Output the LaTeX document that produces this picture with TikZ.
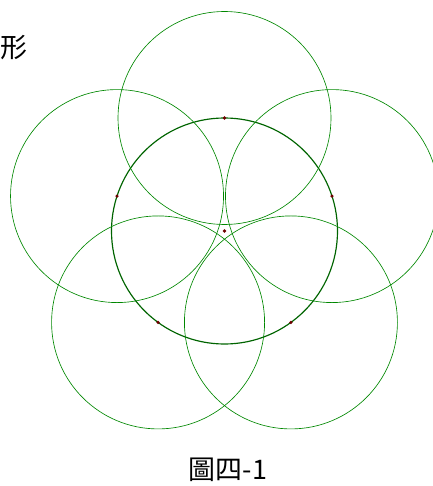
\documentclass[tikz,border=0pt]{standalone}
\usepackage{fontspec}
\newfontfamily\cjk{Noto Sans CJK TC}
\usetikzlibrary{positioning}

\definecolor{ringgreen}{RGB}{0,135,0}
\definecolor{darkgreen}{RGB}{0,100,0}
\definecolor{dotred}{RGB}{110,0,0}

\begin{document}
\begin{tikzpicture}[
  x=0.03cm, y=-0.03cm,
  ring/.style={draw=ringgreen, line width=0.55pt},
  mainring/.style={draw=darkgreen, line width=1pt},
  dot/.style={circle, fill=dotred, inner sep=0pt, minimum size=3pt},
  label/.style={font=\cjk\fontsize{23}{27}\selectfont, inner sep=0pt}]

\clip (0,0) rectangle (433,486);

% central circle
\coordinate (O) at (224.5,231);
\draw[mainring] (O) circle[radius=113];

% five circles centred on the central one
\foreach \a/\n in {-90/t, -162/l, 126/bl, 54/br, -18/r}{
  \path (O) ++(\a:113) coordinate (c\n);
  \draw[ring] (c\n) circle[radius=106.5];
  \node[dot] (d\n) at (c\n) {};
}
\node[dot] (dO) at (O) {};

\node[label, anchor=east] (word) at (28,48) {形};
\node[label] (caption) at (228,470) {圖四-1};
\end{tikzpicture}
\end{document}
